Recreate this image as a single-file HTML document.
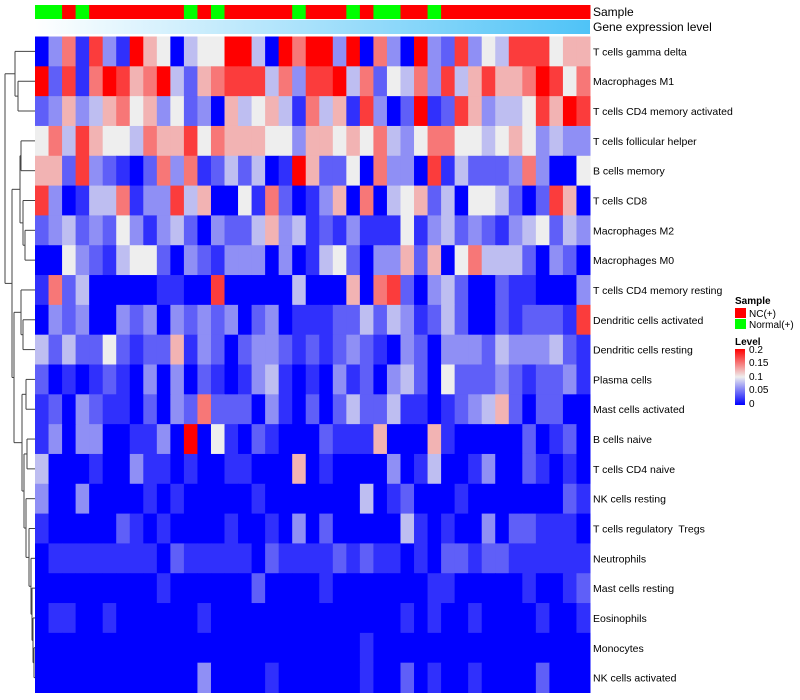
<!DOCTYPE html>
<html><head><meta charset="utf-8"><style>
html,body{margin:0;padding:0;background:#fff;width:800px;height:700px;overflow:hidden}
svg{display:block;font-family:"Liberation Sans",sans-serif}
#rowlabels text{white-space:pre}
</style></head><body>
<svg id="chart" width="800" height="700">
 <defs>
  <linearGradient id="geneGrad" x1="0" x2="1" y1="0" y2="0">
   <stop offset="0" stop-color="#ffffff"/><stop offset="1" stop-color="#4fc3f7"/>
  </linearGradient>
  <linearGradient id="levelGrad" x1="0" x2="0" y1="1" y2="0">
   <stop offset="0" stop-color="#0000ff"/><stop offset="0.5" stop-color="#eeeeee"/><stop offset="1" stop-color="#ff0000"/>
  </linearGradient>
 </defs>
 <g id="heat"></g>
 <g id="annot"></g>
 <rect x="35" y="20" width="555" height="14" fill="url(#geneGrad)"/>
 <text x="593" y="16" font-size="12">Sample</text>
 <text x="593" y="31" font-size="12">Gene expression level</text>
 <g id="rowlabels"></g>
 <g id="dendro" stroke="#444" stroke-width="1" fill="none"></g>
 <g>
  <text x="735" y="304" font-size="10" font-weight="bold">Sample</text>
  <rect x="735" y="308" width="11" height="10" fill="#ff0000"/>
  <text x="749" y="317" font-size="10">NC(+)</text>
  <rect x="735" y="319" width="11" height="10" fill="#00ff00"/>
  <text x="749" y="328" font-size="10">Normal(+)</text>
  <text x="735" y="345" font-size="10" font-weight="bold">Level</text>
  <rect x="735" y="349" width="10" height="56" fill="url(#levelGrad)"/>
  <text x="749" y="353" font-size="10">0.2</text>
  <text x="749" y="366" font-size="10">0.15</text>
  <text x="749" y="380" font-size="10">0.1</text>
  <text x="749" y="393" font-size="10">0.05</text>
  <text x="749" y="407" font-size="10">0</text>
 </g>
</svg>
<script>
// Row labels (top to bottom)
const rowNames = ["T cells gamma delta","Macrophages M1","T cells CD4 memory activated","T cells follicular helper","B cells memory","T cells CD8","Macrophages M2","Macrophages M0","T cells CD4 memory resting","Dendritic cells activated","Dendritic cells resting","Plasma cells","Mast cells activated","B cells naive","T cells CD4 naive","NK cells resting","T cells regulatory  Tregs","Neutrophils","Mast cells resting","Eosinophils","Monocytes","NK cells activated"];
// Sample groups per column: 1 = NC(+), 0 = Normal(+)
const sampleGroups = [0,0,1,0,1,1,1,1,1,1,1,0,1,0,1,1,1,1,1,0,1,1,1,0,1,0,0,1,1,0,1,1,1,1,1,1,1,1,1,1,1];
// Level scores on a 0..9 scale (0 = level 0, 5 = 0.1, 9 = 0.2)
const levelScores = [
[0,3,7,1,8,3,1,9,6,5,0,4,5,5,9,9,4,0,9,7,9,9,3,9,0,7,3,0,9,3,2,8,3,5,4,8,8,8,5,6,6],
[9,2,8,1,7,9,8,6,7,9,4,2,6,7,8,8,8,4,7,3,8,8,9,4,7,2,5,4,7,3,8,4,6,8,6,6,7,9,8,5,7],
[2,3,6,3,4,6,7,5,6,3,5,2,3,0,6,4,5,6,4,1,7,4,6,1,8,3,0,2,9,1,2,8,6,3,4,4,5,8,6,9,8],
[5,7,4,8,6,5,5,4,7,6,6,8,5,7,6,6,6,5,5,3,6,6,5,6,5,7,4,3,5,7,7,5,5,4,5,6,5,3,4,3,3],
[6,6,2,8,3,2,1,0,2,7,3,7,1,2,4,2,4,0,1,9,6,2,2,5,0,7,3,3,0,8,1,4,2,2,2,3,7,3,0,0,5],
[8,3,0,1,4,4,7,1,3,3,8,4,6,0,0,5,1,7,2,0,1,3,6,0,7,0,4,5,6,2,4,0,5,5,4,2,0,2,8,6,0],
[2,3,4,2,3,2,5,3,1,3,4,2,0,3,2,2,4,6,3,4,1,2,1,3,1,1,1,5,1,3,4,2,3,2,1,3,4,5,2,4,3],
[0,0,5,3,2,1,4,5,5,2,0,3,2,1,3,3,3,0,3,0,1,4,5,2,0,3,3,6,2,6,0,5,7,4,4,4,2,0,3,2,0],
[1,7,2,4,0,0,0,0,0,1,1,0,0,8,0,0,0,0,0,4,0,0,0,6,0,7,8,2,0,3,4,2,0,0,2,1,1,0,0,0,3],
[0,3,2,3,0,0,3,2,3,0,3,2,3,2,3,0,2,3,0,1,1,1,2,2,4,2,4,3,1,2,4,2,0,0,2,1,2,2,2,1,8],
[4,2,4,2,2,5,2,1,2,2,6,1,3,2,0,2,3,3,2,1,2,1,2,3,2,1,0,3,2,0,3,3,3,2,4,3,3,3,4,2,1],
[2,0,1,0,1,2,1,0,3,0,3,0,2,1,0,1,3,4,1,0,1,0,3,1,2,0,3,4,2,0,5,2,2,2,3,2,1,2,2,3,1],
[1,2,0,3,2,1,1,0,2,0,3,2,7,2,2,2,0,3,1,0,2,0,2,4,2,2,4,1,1,0,1,2,3,4,6,2,0,2,2,0,0],
[1,3,0,3,3,0,0,1,1,3,0,9,0,5,1,0,2,1,0,0,0,2,1,1,1,6,0,0,0,6,1,0,0,0,0,0,2,0,1,2,0],
[4,0,0,0,1,0,0,3,1,1,0,1,0,0,1,1,0,0,0,6,0,1,0,0,0,0,3,0,1,4,0,0,1,3,0,0,2,1,0,1,0],
[3,0,0,3,0,0,0,0,1,0,1,0,0,0,0,0,1,0,0,0,0,0,0,0,4,0,1,2,0,0,0,1,0,0,0,0,0,0,0,2,1],
[1,0,0,0,0,0,2,1,0,1,0,0,0,0,1,0,0,1,0,3,0,2,0,0,0,0,0,4,1,0,1,0,0,3,0,2,2,1,1,1,0],
[0,1,1,1,1,1,1,1,1,0,2,1,1,1,1,1,0,2,1,1,1,1,2,1,2,1,1,0,1,0,2,2,1,2,2,1,1,1,1,1,1],
[0,0,0,0,0,0,0,0,0,1,0,0,0,0,0,0,2,0,0,0,0,1,0,0,0,0,0,0,0,1,1,0,0,0,0,0,1,0,0,1,2],
[0,1,1,0,0,1,0,0,0,0,0,0,1,0,0,0,0,0,0,0,0,0,0,0,0,0,0,1,0,1,0,0,1,0,0,0,0,1,0,0,1],
[0,0,0,0,0,0,0,0,0,0,0,0,0,0,0,0,0,0,0,0,0,0,0,0,1,0,0,0,0,0,0,0,0,0,0,0,0,0,0,0,0],
[0,0,0,0,0,0,0,0,0,0,0,0,3,0,0,0,0,1,0,0,0,0,0,0,1,0,0,2,0,1,0,0,1,0,0,0,0,2,0,0,0]
];
// Row dendrogram: [height, left, right] or leaf row index
const dendroTree = [5,[15,0,[18,1,2]],[12,[20,[21,3,4],[23,5,[25,6,7]]],[14,[21,8,[23,9,10]],[22,[26,11,12],[24,[27,13,14],[26,15,[29,16,[31,17,[32,18,[33,19,[34,20,21]]]]]]]]]]];

const NS="http://www.w3.org/2000/svg";
const X0=35, X1=590, Y0=36.5, Y1=692.5;
const nCols=levelScores[0].length, nRows=levelScores.length;
const cw=(X1-X0)/nCols, rh=(Y1-Y0)/nRows;
const xAt=c=>X0+c*cw, yAt=r=>Y0+r*rh;
function color(v){
  const mid=[238,238,238];let a,b,t;
  if(v<=5){a=[0,0,255];b=mid;t=v/5;}else{a=mid;b=[255,0,0];t=Math.min(1,(v-5)/4);}
  return `rgb(${a.map((x,i)=>Math.round(x+(b[i]-x)*t)).join(",")})`;
}
const heat=document.getElementById("heat");
levelScores.forEach((row,r)=>row.forEach((v,c)=>{
  const el=document.createElementNS(NS,"rect");
  el.setAttribute("x",xAt(c));el.setAttribute("y",yAt(r));
  el.setAttribute("width",cw+0.5);el.setAttribute("height",rh+0.5);
  el.setAttribute("fill",color(v));
  
  
  heat.appendChild(el);
}));
const annot=document.getElementById("annot");
sampleGroups.forEach((g,c)=>{
  const el=document.createElementNS(NS,"rect");
  el.setAttribute("x",xAt(c));el.setAttribute("y",5);
  el.setAttribute("width",cw+0.5);el.setAttribute("height",14);
  el.setAttribute("fill",g?"#ff0000":"#00ff00");
  
  
  annot.appendChild(el);
});
const rl=document.getElementById("rowlabels");
rowNames.forEach((n,r)=>{
  const el=document.createElementNS(NS,"text");
  el.setAttribute("x",593);el.setAttribute("y",yAt(r)+rh/2+4);
  el.setAttribute("font-size","10.5");el.textContent=n;
  
  
  rl.appendChild(el);
});
const dg=document.getElementById("dendro");
function line(x1,y1,x2,y2){
  const el=document.createElementNS(NS,"line");
  el.setAttribute("x1",x1);el.setAttribute("y1",y1);el.setAttribute("x2",x2);el.setAttribute("y2",y2);
  
  
  dg.appendChild(el);
}
function draw(n){
  if(typeof n==="number") return {x:35,y:yAt(n)+rh/2};
  const a=draw(n[1]),b=draw(n[2]),h=n[0];
  line(h,a.y,a.x,a.y);line(h,b.y,b.x,b.y);line(h,a.y,h,b.y);
  return {x:h,y:(a.y+b.y)/2};
}
draw(dendroTree);
</script>
</body></html>
